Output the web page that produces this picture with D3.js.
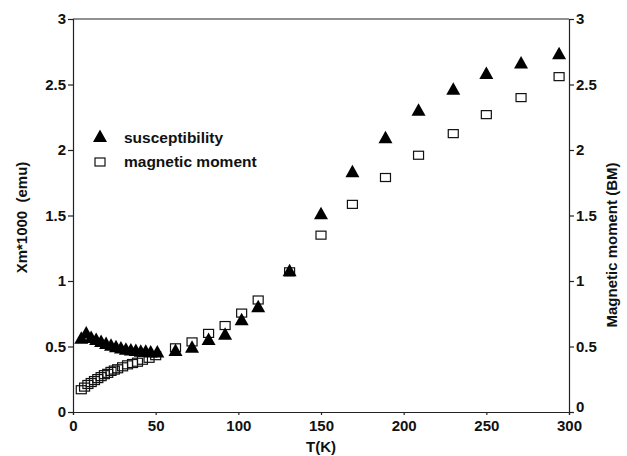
<!DOCTYPE html>
<html><head><meta charset="utf-8">
<script src="https://cdn.jsdelivr.net/npm/d3@7/dist/d3.min.js"></script>
<style>body{margin:0;background:#fff}svg text{font-family:"Liberation Sans",Arial,sans-serif;font-weight:bold;fill:#111}</style>
</head><body><svg id="c" width="627" height="456"></svg>
<script>
const suscT = [5,8,11,14,17,20,23,26,29,32,35,38,41,44,47,51,62,72,82,92,102,112,131,150,169,189,209,230,250,271,294];
const suscV = [0.56,0.60,0.565,0.55,0.535,0.52,0.505,0.495,0.485,0.475,0.47,0.465,0.46,0.46,0.455,0.455,0.465,0.49,0.55,0.59,0.70,0.80,1.075,1.51,1.83,2.09,2.30,2.46,2.58,2.66,2.73];
const momT = [5,7,9,11,13,15,17,19,21,23,25,27,30,33,36,39,42,46,50,62,72,82,92,102,112,131,150,169,189,209,230,250,271,294];
const momV = [0.17,0.19,0.21,0.225,0.24,0.255,0.27,0.285,0.295,0.31,0.32,0.33,0.345,0.36,0.37,0.38,0.395,0.41,0.43,0.49,0.535,0.60,0.66,0.755,0.855,1.07,1.35,1.585,1.79,1.96,2.125,2.27,2.40,2.56];
const xTicks = [0,50,100,150,200,250,300];
const yTicks = [0,0.5,1,1.5,2,2.5,3];
const legendLabels = ["susceptibility","magnetic moment"];

const svg = d3.select("#c");
const L=73,R=569,T=19,B=412;
const x = d3.scaleLinear().domain([0,300]).range([L,R]);
const y = d3.scaleLinear().domain([0,3]).range([B,T]);
const fmt = d => d===0?"0":String(d);

const ax = svg.append("g").attr("transform",`translate(0,${B})`)
  .call(d3.axisBottom(x).tickValues(xTicks).tickFormat(fmt).tickSize(3).tickPadding(5));
const ay = svg.append("g").attr("transform",`translate(${L},0)`)
  .call(d3.axisLeft(y).tickValues(yTicks).tickFormat(fmt).tickSize(5).tickPadding(2));
const ar = svg.append("g").attr("transform",`translate(${R},0)`)
  .call(d3.axisRight(y).tickValues(yTicks).tickFormat(fmt).tickSize(5).tickPadding(2));
[ax,ay,ar].forEach(g=>{
  g.selectAll("path,line").attr("stroke","#222").attr("stroke-width",1.2);
  g.selectAll("text").style("font-size","15px").attr("fill","#111");
});
ar.selectAll(".tick text").filter(d=>d===0).attr("dy","-0.05em");
svg.append("line").attr("x1",L).attr("x2",R).attr("y1",T).attr("y2",T).attr("stroke","#222").attr("stroke-width",1.2);

svg.append("text").attr("x",x(150)).attr("y",452).attr("text-anchor","middle").style("font-size","15px").text("T(K)");
svg.append("text").attr("transform",`translate(27,${(T+B)/2+2}) rotate(-90)`).attr("text-anchor","middle").style("font-size","15px").style("white-space","pre").text("Xm*1000  (emu)");
svg.append("text").attr("transform",`translate(617,245) rotate(-90)`).attr("text-anchor","middle").style("font-size","15px").text("Magnetic moment (BM)");

const tri = (cx,cy)=>`M${cx},${cy-7.5}L${cx+7},${cy+5}L${cx-7},${cy+5}Z`;
const mom = momT.map((t,i)=>({t,v:momV[i]}));
const sus = suscT.map((t,i)=>({t,v:suscV[i]}));
svg.append("g").selectAll("rect").data(mom).join("rect")
  .attr("x",d=>x(d.t)-5).attr("y",d=>y(d.v)-4).attr("width",10).attr("height",8)
  .attr("fill","none").attr("stroke","#111").attr("stroke-width",1.2);
svg.append("g").selectAll("path").data(sus).join("path")
  .attr("d",d=>tri(x(d.t),y(d.v))).attr("fill","#000");

// legend
svg.append("path").attr("d",tri(100,137)).attr("fill","#000");
svg.append("rect").attr("x",95).attr("y",158).attr("width",10).attr("height",8).attr("fill","none").attr("stroke","#111").attr("stroke-width",1.2);
svg.append("text").attr("x",124).attr("y",143).style("font-size","15.5px").text(legendLabels[0]);
svg.append("text").attr("x",124).attr("y",167).style("font-size","15.5px").text(legendLabels[1]);
</script></body></html>
